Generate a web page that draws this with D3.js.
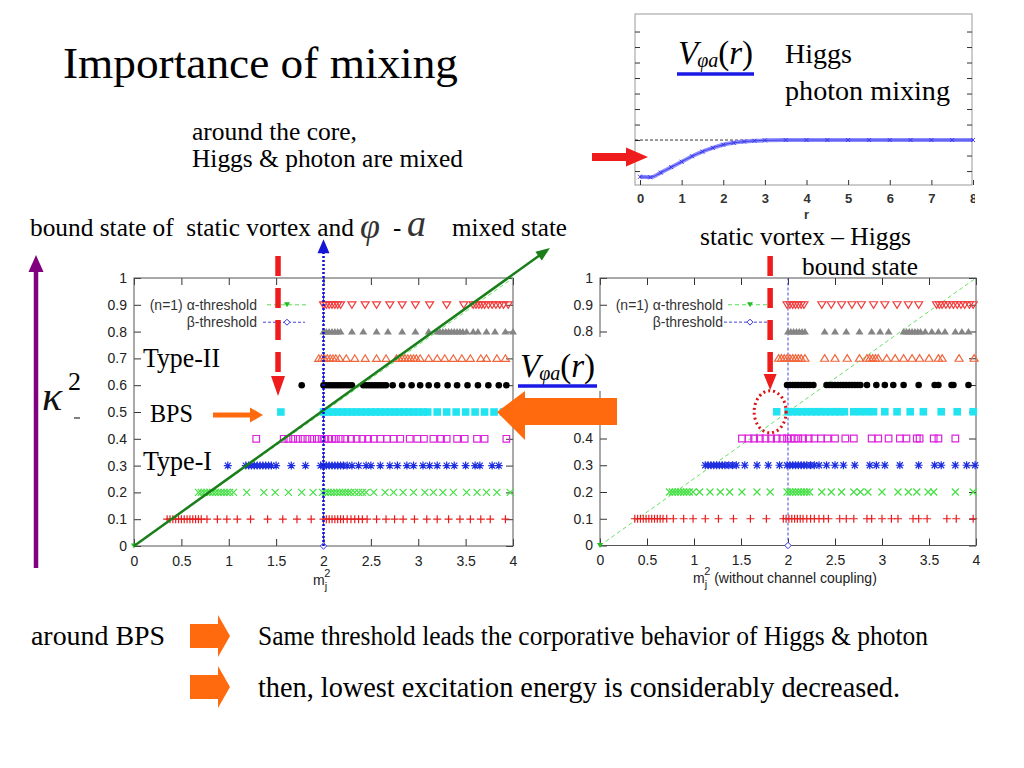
<!DOCTYPE html>
<html><head><meta charset="utf-8">
<script src="https://cdn.jsdelivr.net/npm/d3@7"></script>
<style>body{margin:0;background:#fff;} svg{display:block;} text{white-space:pre;}</style>
</head><body>
<svg id="s" width="1024" height="768"></svg>
<script>
// ---------------- data ----------------
const kappaRows = [0.9, 0.8, 0.7, 0.6, 0.5, 0.4, 0.3, 0.2, 0.1];
const markerTypes = ["triDownOpen","triUpFill","triUpOpen","dot","squareFill","squareOpen","star","cross","plus"];
const markerColors = ["#f23c3c","#858585","#f2643a","#000000","#22e4f0","#dd22dd","#1f2fe0","#44e044","#e81e1e"];
const xTicks = [0, 0.5, 1, 1.5, 2, 2.5, 3, 3.5, 4];
const yTicks = [0, 0.1, 0.2, 0.3, 0.4, 0.5, 0.6, 0.7, 0.8, 0.9, 1];
const hiddenRightYLabels = [0.5, 0.6, 0.7];   // covered by the V(r) picture in the slide

// left panel (with channel coupling): m_j^2 positions for each kappa^2 row
const leftK09 = [2.00,2.03,2.06,2.09,2.12,2.15,2.18,2.30,2.44,2.56,2.70,2.83,2.97,3.12,3.30,3.48,3.58,3.61,3.64,3.67,3.70,3.74,3.78,3.82,3.86,3.90,3.95];
const leftK08 = [2.00,2.03,2.06,2.09,2.12,2.15,2.18,2.30,2.42,2.56,2.68,2.83,2.97,3.11,3.20,3.23,3.26,3.29,3.32,3.35,3.38,3.41,3.44,3.47,3.51,3.58,3.63,3.72,3.81,3.92,4.00];
const leftK07 = [1.95,1.98,2.01,2.04,2.07,2.10,2.13,2.17,2.24,2.33,2.44,2.56,2.66,2.77,2.80,2.83,2.86,2.89,2.92,2.95,2.98,3.02,3.11,3.20,3.28,3.37,3.46,3.55,3.66,3.72,3.83,3.92];
const leftK06 = [1.77,2.00,2.03,2.06,2.09,2.12,2.15,2.18,2.21,2.24,2.27,2.30,2.42,2.45,2.48,2.51,2.54,2.57,2.60,2.63,2.66,2.73,2.83,2.93,3.02,3.11,3.20,3.31,3.41,3.52,3.63,3.74,3.85,3.93];
const leftK05 = [1.55,2.00,2.05,2.10,2.15,2.20,2.25,2.30,2.35,2.40,2.45,2.50,2.55,2.60,2.65,2.70,2.75,2.80,2.85,2.90,2.95,3.00,3.05,3.10,3.20,3.30,3.40,3.50,3.60,3.70,3.80,3.90];
const leftK04 = [1.29,1.58,1.63,1.68,1.73,1.78,1.83,1.88,1.93,1.98,2.01,2.05,2.09,2.13,2.18,2.23,2.29,2.35,2.41,2.47,2.53,2.60,2.67,2.74,2.81,2.91,2.99,3.06,3.16,3.24,3.30,3.41,3.49,3.62,3.70,3.93];
const leftK03 = [0.99,1.18,1.21,1.24,1.27,1.30,1.33,1.36,1.39,1.42,1.45,1.50,1.66,1.81,1.97,2.00,2.03,2.06,2.09,2.12,2.15,2.18,2.21,2.25,2.30,2.37,2.45,2.50,2.60,2.70,2.78,2.88,2.95,3.05,3.12,3.20,3.30,3.38,3.50,3.60,3.65,3.78,3.85];
const leftK02 = [0.68,0.71,0.74,0.77,0.80,0.83,0.86,0.89,0.92,0.95,0.98,1.01,1.05,1.19,1.37,1.49,1.63,1.77,1.89,1.99,2.02,2.05,2.08,2.11,2.14,2.17,2.20,2.23,2.26,2.29,2.33,2.37,2.41,2.45,2.53,2.65,2.74,2.84,2.95,3.07,3.16,3.26,3.37,3.51,3.62,3.72,3.83,3.97];
const leftK01 = [0.35,0.38,0.41,0.44,0.47,0.50,0.53,0.56,0.59,0.62,0.65,0.68,0.71,0.77,0.88,0.98,1.09,1.23,1.41,1.57,1.72,1.87,2.00,2.03,2.06,2.09,2.12,2.15,2.18,2.21,2.25,2.29,2.33,2.37,2.41,2.46,2.56,2.66,2.75,2.84,2.96,3.09,3.20,3.32,3.44,3.55,3.66,3.76,3.92];

// right panel (without channel coupling)
const rightK09 = [1.99,2.02,2.05,2.08,2.11,2.14,2.17,2.36,2.46,2.57,2.68,2.78,2.91,3.03,3.16,3.28,3.39,3.58,3.61,3.64,3.68,3.72,3.76,3.80,3.84,3.88,3.93,3.97];
const rightK08 = [2.00,2.03,2.06,2.09,2.12,2.15,2.18,2.39,2.50,2.62,2.76,2.89,2.98,3.07,3.23,3.26,3.29,3.32,3.35,3.38,3.41,3.46,3.53,3.60,3.67,3.78,3.85,3.92];
const rightK07 = [1.90,1.93,1.96,1.99,2.02,2.05,2.08,2.11,2.14,2.18,2.39,2.50,2.63,2.76,2.84,2.87,2.90,2.93,2.96,3.05,3.14,3.23,3.32,3.40,3.50,3.60,3.64,3.82,3.98];
const rightK06 = [1.99,2.02,2.05,2.08,2.11,2.14,2.17,2.20,2.23,2.27,2.41,2.44,2.47,2.50,2.53,2.56,2.59,2.62,2.65,2.68,2.71,2.74,2.77,2.84,2.94,3.03,3.12,3.23,3.39,3.56,3.60,3.74,3.76,3.92];
const rightK05 = [1.88,2.00,2.05,2.10,2.15,2.20,2.25,2.30,2.35,2.40,2.45,2.50,2.55,2.60,2.70,2.77,2.84,2.91,3.03,3.16,3.30,3.44,3.63,3.80,3.97];
const rightK04 = [1.51,1.58,1.64,1.70,1.76,1.82,1.88,1.94,1.99,2.03,2.07,2.11,2.16,2.22,2.28,2.35,2.42,2.50,2.61,2.70,2.89,2.96,3.07,3.19,3.26,3.37,3.40,3.55,3.60,3.78];
const rightK03 = [1.12,1.15,1.18,1.21,1.24,1.27,1.30,1.33,1.37,1.41,1.45,1.54,1.67,1.79,1.91,1.99,2.02,2.05,2.08,2.11,2.14,2.17,2.20,2.24,2.28,2.33,2.41,2.50,2.59,2.71,2.87,2.94,3.03,3.19,3.39,3.56,3.63,3.78,3.90,3.99];
const rightK02 = [0.74,0.77,0.80,0.83,0.86,0.89,0.92,0.95,0.99,1.06,1.17,1.28,1.38,1.51,1.67,1.81,1.99,2.02,2.05,2.08,2.11,2.14,2.17,2.20,2.23,2.36,2.46,2.57,2.70,2.77,2.85,3.00,3.17,3.28,3.37,3.49,3.55,3.78,3.97];
const rightK01 = [0.37,0.40,0.43,0.46,0.49,0.52,0.55,0.58,0.61,0.64,0.67,0.71,0.78,0.89,0.99,1.12,1.26,1.42,1.60,1.77,1.95,1.98,2.01,2.04,2.07,2.10,2.13,2.16,2.20,2.24,2.28,2.33,2.38,2.43,2.55,2.62,2.70,2.84,2.89,3.00,3.10,3.17,3.33,3.39,3.48,3.69,3.79,3.97];

const leftRows = [leftK09,leftK08,leftK07,leftK06,leftK05,leftK04,leftK03,leftK02,leftK01];
const rightRows = [rightK09,rightK08,rightK07,rightK06,rightK05,rightK04,rightK03,rightK02,rightK01];

// thresholds
const alphaLine = [[0,0],[4,1]];
const betaX = 2;

// inset V_{phi a}(r)
const rTicks = [0,1,2,3,4,5,6,7,8];
const vTicks = [-2,-1,0,1,2,3,4,5,6,7];
const rVals = [0,0.25,0.5,0.75,1,1.25,1.5,1.75,2,2.25,2.5,2.75,3,3.5,4,4.5,5,5.5,6,6.5,7,7.5,8];
const vVals = [-2.37,-2.4,-2.1,-1.75,-1.4,-1.05,-0.75,-0.5,-0.3,-0.18,-0.1,-0.05,-0.02,0,0,0,0,0,0,0,0,0,0];

// ---------------- drawing ----------------
const svg = d3.select("#s");
const SERIF = "Liberation Serif, Times New Roman, serif";
const SANS = "Liberation Sans, Arial, sans-serif";
const ORANGE = "#ff6a0e", RED = "#ee1c1c";

function txt(parent, x, y, s, size, o = {}) {
  const t = parent.append("text").attr("x", x).attr("y", y).text(s)
    .attr("font-family", o.family || SERIF).attr("font-size", size)
    .attr("fill", o.fill || "#000");
  if (o.anchor) t.attr("text-anchor", o.anchor);
  if (o.italic) t.attr("font-style", "italic");
  if (o.weight) t.attr("font-weight", o.weight);
  if (o.len) t.attr("textLength", o.len).attr("lengthAdjust", "spacingAndGlyphs");
  return t;
}

function arrow(parent, x1, y1, x2, y2, color, w, hl, hw, dash) {
  const dx = x2 - x1, dy = y2 - y1, L = Math.hypot(dx, dy);
  const ux = dx / L, uy = dy / L;
  const bx = x2 - ux * hl, by = y2 - uy * hl;
  const ln = parent.append("line").attr("x1", x1).attr("y1", y1).attr("x2", bx + ux*1).attr("y2", by + uy*1)
    .attr("stroke", color).attr("stroke-width", w);
  if (dash) ln.attr("stroke-dasharray", dash);
  const px = -uy, py = ux;
  parent.append("path").attr("d",
    `M${x2},${y2}L${bx + px*hw/2},${by + py*hw/2}L${bx - px*hw/2},${by - py*hw/2}Z`).attr("fill", color);
}

const shapes = {
  triDownOpen: "M-4,-3L4,-3L0,3.6Z",
  triUpFill: "M-4,3L4,3L0,-3.6Z",
  triUpOpen: "M-4,3L4,3L0,-3.6Z",
  dot: "M3.3,0A3.3,3.3 0 1,1 -3.3,0A3.3,3.3 0 1,1 3.3,0Z",
  squareFill: "M-3.8,-3.8h7.6v7.6h-7.6Z",
  squareOpen: "M-3.3,-3.3h6.6v6.6h-6.6Z",
  star: "M-4,0H4M0,-4V4M-3,-3L3,3M-3,3L3,-3",
  cross: "M-3.5,-3.5L3.5,3.5M-3.5,3.5L3.5,-3.5",
  plus: "M-4,0H4M0,-4V4"
};
const filled = {triUpFill:1, dot:1, squareFill:1};

function drawChart(x, y, rows, legEnd, lineStart, lineEnd, hideY) {
  const g = svg.append("g");
  const [x0, x1] = x.range(), [y0, y1] = y.range();
  const fmt = d3.format("~g");
  const yfmt = d => hideY.includes(d) ? "" : fmt(d);
  g.append("g").attr("transform", `translate(0,${y0})`)
    .call(d3.axisBottom(x).tickValues(xTicks).tickSize(-7).tickPadding(10).tickFormat(fmt));
  g.append("g").attr("transform", `translate(0,${y1})`)
    .call(d3.axisTop(x).tickValues(xTicks).tickSize(-7).tickFormat(""));
  g.append("g").attr("transform", `translate(${x0},0)`)
    .call(d3.axisLeft(y).tickValues(yTicks).tickSize(-7).tickPadding(7).tickFormat(yfmt));
  g.append("g").attr("transform", `translate(${x1},0)`)
    .call(d3.axisRight(y).tickValues(yTicks).tickSize(-7).tickFormat(""));
  g.selectAll(".domain").remove();
  g.selectAll(".tick line").attr("stroke", "#333");
  g.selectAll(".tick text").attr("font-family", SANS).attr("font-size", 14).attr("fill", "#222");
  g.selectAll(".tick text").filter(function() { return this.textContent === ""; }).remove();
  g.append("rect").attr("x", x0).attr("y", y1).attr("width", x1 - x0).attr("height", y0 - y1)
    .attr("fill", "none").attr("stroke", "#555");

  // legend
  const ly1 = y(0.9), ly2 = y(0.835);
  txt(g, legEnd, ly1 + 5, "(n=1) α-threshold", 14, {family: SANS, anchor: "end", fill: "#333"});
  txt(g, legEnd, ly2 + 5, "β-threshold", 14, {family: SANS, anchor: "end", fill: "#333"});
  g.append("line").attr("x1", lineStart).attr("x2", lineEnd).attr("y1", ly1).attr("y2", ly1)
    .attr("stroke", "#55dd55").attr("stroke-dasharray", "4,3");
  g.append("path").attr("transform", `translate(${(lineStart+lineEnd)/2},${ly1})`).attr("d", "M-3,-2.5L3,-2.5L0,2.5Z").attr("fill", "#22bb22");
  g.append("line").attr("x1", lineStart - 4).attr("x2", lineEnd - 2).attr("y1", ly2).attr("y2", ly2)
    .attr("stroke", "#4444dd").attr("stroke-dasharray", "3,2");
  g.append("path").attr("transform", `translate(${(lineStart+lineEnd)/2},${ly2})`).attr("d", "M0,-3L3,0L0,3L-3,0Z")
    .attr("fill", "#fff").attr("stroke", "#3333dd");

  // thresholds
  g.append("path").attr("d", d3.line().x(d => x(d[0])).y(d => y(d[1]))(alphaLine))
    .attr("stroke", "#66e066").attr("stroke-width", 1).attr("stroke-dasharray", "4,3").attr("fill", "none");
  g.append("line").attr("x1", x(betaX)).attr("x2", x(betaX)).attr("y1", y(0)).attr("y2", y(1))
    .attr("stroke", "#4444dd").attr("stroke-dasharray", "3,2");

  // data rows
  rows.forEach((xs, i) => {
    const t = markerTypes[i], c = markerColors[i], k = kappaRows[i];
    g.append("g").selectAll("path").data(xs).join("path")
      .attr("transform", d => `translate(${x(d)},${y(k)})`)
      .attr("d", shapes[t])
      .attr("fill", filled[t] ? c : "none")
      .attr("stroke", filled[t] ? "none" : c)
      .attr("stroke-width", 1.2);
  });
  g.append("path").attr("transform", `translate(${x(0)},${y(0)})`).attr("d", "M-3,-2.5L3,-2.5L0,2.5Z").attr("fill", "#22bb22");
  g.append("path").attr("transform", `translate(${x(betaX)},${y(0)})`).attr("d", "M0,-3.2L3.2,0L0,3.2L-3.2,0Z")
    .attr("fill", "#fff").attr("stroke", "#3333dd");
  return g;
}

const xL = d3.scaleLinear([0, 4], [134, 513]);
const yL = d3.scaleLinear([0, 1], [546, 278]);
const xR = d3.scaleLinear([0, 4], [600, 976]);
const yR = d3.scaleLinear([0, 1], [545.5, 278]);

drawChart(xL, yL, leftRows, 257, 267, 307, []);
drawChart(xR, yR, rightRows, 723, 728, 772, hiddenRightYLabels);

// x axis titles
function mjLabel(x, y, extra) {
  const t = svg.append("text").attr("x", x).attr("y", y).attr("font-family", SANS).attr("font-size", 14).attr("fill", "#222");
  t.append("tspan").text("m");
  t.append("tspan").attr("dy", 5).attr("font-size", 11).text("j");
  t.append("tspan").attr("dx", -3).attr("dy", -13).attr("font-size", 11).text("2");
  if (extra) t.append("tspan").attr("dy", 8).text(" " + extra);
}
mjLabel(313, 585);
mjLabel(693, 583, "(without channel coupling)");

// ---- annotations ----
arrow(svg, xL(0), yL(0), xL(4.39), yL(1.112), "#1a7f1a", 2.5, 14, 11);
arrow(svg, xL(2), yL(0), xL(2), yL(1.145), "#1515d5", 2.6, 14, 12, "2,2");
arrow(svg, xL(1.52), 256, xL(1.52), 396, RED, 5.5, 20, 14, "20,12");
arrow(svg, xR(1.81), 256, xR(1.81), 390, RED, 5.5, 16, 13, "20,12");
svg.append("ellipse").attr("cx", xR(1.81)).attr("cy", yR(0.5)).attr("rx", 16).attr("ry", 21)
  .attr("fill", "none").attr("stroke", "#dd1111").attr("stroke-width", 3).attr("stroke-dasharray", "2,3");
arrow(svg, 213, 415, 263, 415, ORANGE, 5, 13, 15);

txt(svg, 143, 367, "Type-II", 27, {len: 77});
txt(svg, 150, 422, "BPS", 26, {len: 43});
txt(svg, 143, 470, "Type-I", 27, {len: 69});

// white box + V label between charts
svg.append("rect").attr("x", 516).attr("y", 337).attr("width", 92).attr("height", 54).attr("fill", "#fff");
function vLabel(x, y, ux1, ux2, uy) {
  const t = svg.append("text").attr("x", x).attr("y", y).attr("font-family", SERIF).attr("font-size", 33);
  t.append("tspan").attr("font-style", "italic").text("V");
  t.append("tspan").attr("font-style", "italic").attr("font-size", 20).attr("dy", 3).attr("dx", -1).text("φa");
  t.append("tspan").attr("dy", -3).text("(");
  t.append("tspan").attr("font-style", "italic").text("r");
  t.append("tspan").text(")");
  svg.append("line").attr("x1", ux1).attr("x2", ux2).attr("y1", uy).attr("y2", uy)
    .attr("stroke", "#1a1ae6").attr("stroke-width", 3.5);
}
vLabel(520, 377, 518, 597, 386);

svg.append("path").attr("d", "M497,412L525,391L525,398L617,398L617,425L525,425L525,440Z").attr("fill", ORANGE);

// ---- inset ----
const xr = d3.scaleLinear([0, 8], [640, 973]);
const yv = d3.scaleLinear([-2.9, 8.13], [185, 14]);
svg.append("clipPath").attr("id", "ic").append("rect").attr("x", 600).attr("y", 0).attr("width", 375).attr("height", 230);
const gi = svg.append("g").attr("clip-path", "url(#ic)");
gi.append("rect").attr("x", 635).attr("y", 14).attr("width", 337).attr("height", 171).attr("fill", "none").attr("stroke", "#999");
gi.append("g").attr("transform", "translate(0,185)")
  .call(d3.axisBottom(xr).tickValues(rTicks).tickSize(-5).tickPadding(9).tickFormat(d3.format("d")));
gi.append("g").attr("transform", "translate(635,0)")
  .call(d3.axisLeft(yv).tickValues(vTicks).tickSize(-5).tickFormat(""));
gi.append("g").attr("transform", "translate(972,0)")
  .call(d3.axisRight(yv).tickValues(vTicks).tickSize(-5).tickFormat(""));
gi.selectAll(".domain").remove();
gi.selectAll(".tick line").attr("stroke", "#333");
gi.selectAll(".tick text").attr("font-family", SANS).attr("font-size", 13).attr("font-weight", "bold").attr("fill", "#333");
gi.selectAll(".tick text").filter(function() { return this.textContent === ""; }).remove();
gi.append("line").attr("x1", 635).attr("x2", 972).attr("y1", yv(0)).attr("y2", yv(0))
  .attr("stroke", "#000").attr("stroke-width", 0.8).attr("stroke-dasharray", "3,2");
const curve = rVals.map((r, i) => [r, vVals[i]]);
const vLine = d3.line().curve(d3.curveMonotoneX).x(d => xr(d[0])).y(d => yv(d[1]));
gi.append("path").attr("d", vLine(curve)).attr("fill", "none").attr("stroke", "#8c8cff").attr("stroke-width", 4);
gi.append("path").attr("d", vLine(curve)).attr("fill", "none").attr("stroke", "#4040ea").attr("stroke-width", 1);
gi.append("g").selectAll("path").data(curve).join("path")
  .attr("transform", d => `translate(${xr(d[0])},${yv(d[1])})`)
  .attr("d", "M-2,-2L2,2M-2,2L2,-2").attr("stroke", "#3a3ae8").attr("stroke-width", 1);
txt(svg, xr(4), 219, "r", 13, {family: SANS, anchor: "middle", weight: "bold", fill: "#333"});
vLabel(678, 64, 677, 754, 74);
txt(svg, 785, 63, "Higgs", 28, {len: 67});
txt(svg, 785, 100, "photon mixing", 28, {len: 165});
arrow(svg, 592, 157, 648, 157, RED, 8, 22, 19);

// ---- slide text ----
txt(svg, 63, 78, "Importance of mixing", 45, {len: 395});
txt(svg, 192, 140, "around the core,", 25, {len: 165});
txt(svg, 192, 167, "Higgs & photon are mixed", 25, {len: 271});
txt(svg, 30, 236, "bound state of  static vortex and", 25, {len: 324});
txt(svg, 360, 238, "φ", 36, {italic: true, fill: "#333"});
txt(svg, 393, 236, "-", 25);
txt(svg, 407, 236, "a", 38, {italic: true, fill: "#333"});
txt(svg, 452, 236, "mixed state", 25, {len: 115});
txt(svg, 700, 245, "static vortex – Higgs", 25, {len: 211});
txt(svg, 802, 275, "bound state", 25, {len: 116});

// kappa^2 with purple arrow
arrow(svg, 36, 568, 36, 255, "#800080", 4.5, 17, 15);
txt(svg, 42, 410, "κ", 42, {italic: true, fill: "#111"});
txt(svg, 68, 390, "2", 26);
svg.append("line").attr("x1", 74).attr("x2", 80).attr("y1", 418).attr("y2", 418).attr("stroke", "#000").attr("stroke-width", 1);

// bottom text
txt(svg, 31, 645, "around BPS", 28, {len: 134});
function blockArrow(cy) {
  svg.append("path").attr("d", `M190,${cy-12}L218,${cy-12}L218,${cy-21}L230,${cy}L218,${cy+21}L218,${cy+12}L190,${cy+12}Z`).attr("fill", ORANGE);
}
blockArrow(636);
blockArrow(687);
txt(svg, 258, 645, "Same threshold leads the corporative behavior of Higgs & photon", 27, {len: 670});
txt(svg, 258, 697, "then, lowest excitation energy is considerably decreased.", 29, {len: 642});
</script>
</body></html>
